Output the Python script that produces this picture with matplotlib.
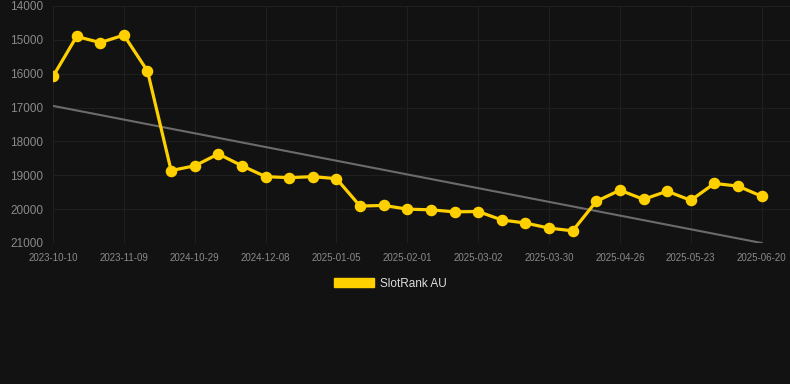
import numpy as np
import matplotlib
matplotlib.use("Agg")
import matplotlib.pyplot as plt
from matplotlib.patches import Patch

plt.rcParams["font.family"] = ["Liberation Sans", "DejaVu Sans"]

# shown date labels (every third point)
etiquetas = ["2023-10-10", "2023-11-09", "2024-10-29", "2024-12-08", "2025-01-05",
             "2025-02-01", "2025-03-02", "2025-03-30", "2025-04-26", "2025-05-23", "2025-06-20"]

rango = [16080, 14900, 15080, 14860, 15920, 18860, 18720, 18370, 18720, 19040,
         19070, 19040, 19100, 19910, 19890, 20000, 20020, 20080, 20070, 20320,
         20410, 20560, 20640, 19770, 19440, 19710, 19470, 19740, 19240, 19320,
         19620]

tendencia = [16950, 21000]

fondo = "#121212"
amarillo = "#FFD000"
gris_texto = "#8a8a8a"

fig = plt.figure(figsize=(7.9, 3.84), dpi=100, facecolor=fondo)
ax = fig.add_axes([53 / 790, 1 - 243 / 384, 1 - 53 / 790, 237 / 384])
ax.set_facecolor(fondo)

x = np.arange(len(rango))
ax.plot([x[0], x[-1]], tendencia, color="#6b6b6b", linewidth=1.5, zorder=2)
ax.plot(x, rango, color=amarillo, linewidth=2.3, marker="o", markersize=7.3, zorder=3)

ax.set_ylim(21000, 14000)
ax.set_xlim(0, 31.2)
ax.set_yticks(range(14000, 21001, 1000))
ax.set_xticks(x[::3])
ax.set_xticklabels(etiquetas)

ax.grid(True, color="#1f1f1f", linewidth=0.8)
ax.set_axisbelow(True)
for lado in ax.spines.values():
    lado.set_visible(False)
ax.tick_params(axis="y", length=0, pad=7, labelsize=8.5, labelcolor=gris_texto)
ax.tick_params(axis="x", length=0, pad=7, labelsize=7, labelcolor=gris_texto)

leyenda = fig.legend(handles=[Patch(facecolor=amarillo, edgecolor=amarillo, label="SlotRank AU")],
                     loc="center", bbox_to_anchor=(390 / 790, 1 - 284 / 384), frameon=False,
                     handlelength=3.4, handleheight=0.8, fontsize=8.5, labelcolor="#dddddd",
                     handletextpad=0.5)

fig.savefig("out.png", dpi=100, facecolor=fondo)
